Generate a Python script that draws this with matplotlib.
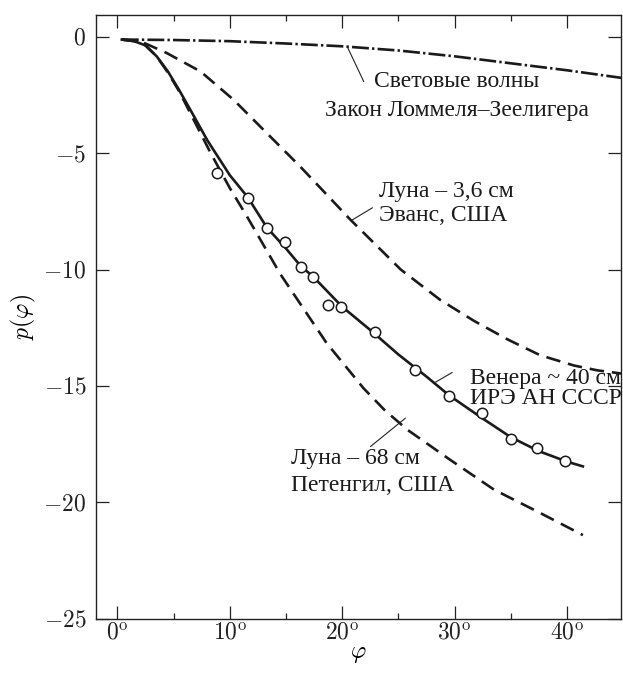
import numpy as np
import matplotlib
matplotlib.use('Agg')
import matplotlib.pyplot as plt

plt.rcParams['mathtext.fontset'] = 'cm'
plt.rcParams['font.family'] = ['Liberation Serif', 'DejaVu Serif']

# Закон Ломмеля-Зеелигера (световые волны)
light_x = [0.4, 5, 10, 15, 20, 25, 30, 35, 40, 44.9]
light_y = [-0.13, -0.15, -0.2, -0.3, -0.42, -0.6, -0.85, -1.15, -1.45, -1.78]

# Луна 3,6 см, Эванс
moon36_x = [0.4, 1.5, 2.5, 4.4, 7.4, 10.35, 13.3, 16.3, 20.7, 25.2, 28.7, 31.7, 34.7, 37.6, 40.6, 42.7, 44.9]
moon36_y = [-0.13, -0.18, -0.3, -0.71, -1.5, -2.72, -4.15, -5.6, -7.85, -10.0, -11.3, -12.2, -13.0, -13.68, -14.12, -14.33, -14.47]

# Луна 68 см, Петенгил
moon68_x = [0.4, 1.5, 2.5, 3.5, 4.5, 5.5, 6.5, 8.3, 10, 11.5, 14.5, 18.6, 21.9, 23.8, 25.8, 29.6, 33.5, 37.6, 41.4]
moon68_y = [-0.13, -0.2, -0.38, -0.85, -1.55, -2.35, -3.3, -5.0, -6.5, -7.7, -10.2, -13.15, -15.1, -16.05, -16.88, -18.17, -19.45, -20.45, -21.4]

# Венера ~40 см, ИРЭ АН СССР (сглаженная кривая)
venus_x = [0.4, 1.5, 2.5, 3.5, 4.5, 5.5, 6.5, 8, 10, 11.6, 13.3, 15, 16.3, 17.4, 20, 22.5, 25, 27.5, 29.5, 32.5, 35, 37.5, 40, 41.4]
venus_y = [-0.13, -0.2, -0.38, -0.85, -1.5, -2.3, -3.15, -4.45, -5.95, -6.9, -8.2, -9.1, -9.85, -10.3, -11.6, -12.6, -13.65, -14.6, -15.4, -16.4, -17.2, -17.8, -18.25, -18.45]

# измеренные точки
obs_x = [8.87, 11.63, 13.32, 14.88, 16.31, 17.44, 18.75, 19.88, 22.91, 26.49, 29.47, 32.43, 35.01, 37.34, 39.8]
obs_y = [-5.84, -6.91, -8.24, -8.82, -9.90, -10.31, -11.52, -11.60, -12.67, -14.30, -15.44, -16.16, -17.29, -17.67, -18.20]

xticks = [0, 10, 20, 30, 40]
xtick_labels = ['$0^{\\mathrm{o}}$', '$10^{\\mathrm{o}}$', '$20^{\\mathrm{o}}$', '$30^{\\mathrm{o}}$', '$40^{\\mathrm{o}}$']
yticks = [0, -5, -10, -15, -20, -25]
ytick_labels = ['$0$', '$-5$', '$-10$', '$-15$', '$-20$', '$-25$']

fig = plt.figure(figsize=(6.23, 6.75), dpi=100)
ax = fig.add_axes([0.154, 0.083, 0.843, 0.895])

ax.plot(light_x, light_y, color='#1a1a1a', lw=1.9, dashes=[6.4, 1.2, 0.9, 1.2])
ax.plot(moon36_x, moon36_y, color='#1a1a1a', lw=1.9, dashes=[5.5, 3])
ax.plot(moon68_x, moon68_y, color='#1a1a1a', lw=1.9, dashes=[5.5, 3])
ax.plot(venus_x, venus_y, color='#1a1a1a', lw=1.9)
ax.plot(obs_x, obs_y, 'o', ms=7.5, mfc='white', mec='#1a1a1a', mew=1.1)

ax.set_xlim(-1.9, 44.8)
ax.set_ylim(-25, 0.93)
ax.set_xticks(xticks)
ax.set_xticklabels(xtick_labels, fontsize=17)
ax.set_xticks([5, 15, 25, 35], minor=True)
ax.set_yticks(yticks)
ax.set_yticklabels(ytick_labels, fontsize=17)
ax.tick_params(axis='both', which='major', direction='in', length=9.5, width=0.9,
               top=True, right=True, color='#222222', labelcolor='#222222')
ax.tick_params(axis='x', which='minor', direction='in', length=4.5, width=0.9,
               top=True, color='#222222')
ax.tick_params(axis='y', which='major', pad=7)
ax.tick_params(axis='x', which='major', pad=3)
for s in ax.spines.values():
    s.set_linewidth(1.0)
    s.set_color('#222222')

ax.set_ylabel('$p(\\varphi)$', fontsize=17, labelpad=4)
ax.set_xlabel('$\\varphi$', fontsize=17, labelpad=0)

fs = 17
line_kw = dict(arrowprops=dict(arrowstyle='-', lw=0.8, color='#222222', shrinkA=0, shrinkB=0))
ax.annotate('', xy=(20.44, -0.43), xytext=(21.91, -1.93), **line_kw)
ax.annotate('', xy=(20.9, -7.87), xytext=(22.69, -7.35), **line_kw)
ax.annotate('', xy=(28.14, -14.88), xytext=(29.78, -14.42), **line_kw)
ax.annotate('', xy=(25.62, -16.38), xytext=(22.51, -17.6), **line_kw)

ax.text(30.16, -1.94, 'Световые волны', fontsize=fs, ha='center', va='center', color='#1a1a1a')
ax.text(30.16, -3.19, 'Закон Ломмеля–Зеелигера', fontsize=fs, ha='center', va='center', color='#1a1a1a')
ax.text(23.31, -6.67, 'Луна – 3,6 см', fontsize=fs, ha='left', va='center', color='#1a1a1a')
ax.text(23.31, -7.69, 'Эванс, США', fontsize=fs, ha='left', va='center', color='#1a1a1a')
ax.text(31.4, -14.69, 'Венера ~ 40 см', fontsize=fs, ha='left', va='center', clip_on=False, color='#1a1a1a')
ax.text(31.4, -15.55, 'ИРЭ АН СССР', fontsize=fs, ha='left', va='center', clip_on=False, color='#1a1a1a')
ax.text(15.48, -18.13, 'Луна – 68 см', fontsize=fs, ha='left', va='center', color='#1a1a1a')
ax.text(15.48, -19.29, 'Петенгил, США', fontsize=fs, ha='left', va='center', color='#1a1a1a')

fig.savefig('out.png', dpi=100)
